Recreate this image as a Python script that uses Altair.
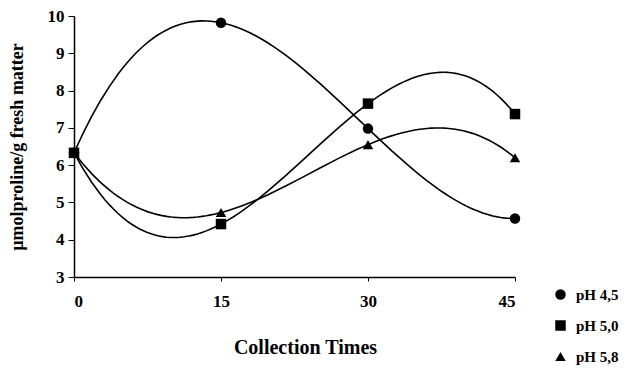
import altair as alt
import pandas as pd

times = [0, 15, 30, 45]
ph45 = [6.33, 9.82, 6.98, 4.57]
ph50 = [6.33, 4.42, 7.65, 7.37]
ph58 = [6.33, 4.73, 6.55, 6.20]
series = ["pH 4,5", "pH 5,0", "pH 5,8"]
shapes = ["circle", "square", "triangle-up"]
y_ticks = [3, 4, 5, 6, 7, 8, 9, 10]

rows = []
for name, vals in zip(series, [ph45, ph50, ph58]):
    for t, v in zip(times, vals):
        rows.append({"t": t, "v": v, "s": name})
df = pd.DataFrame(rows)

FONT = "Liberation Serif"

x = alt.X("t:Q", scale=alt.Scale(domain=[0, 45], nice=False),
          axis=alt.Axis(values=times, title="Collection Times", format="d",
                        labelPadding=12, titlePadding=28, tickSize=4,
                        titleFontSize=20, titleX=231))
y = alt.Y("v:Q", scale=alt.Scale(domain=[3, 10], nice=False),
          axis=alt.Axis(values=y_ticks, title="µmolproline/g fresh matter",
                        labelPadding=4, titlePadding=21, tickSize=6,
                        titleFontSize=18))

# third-order polynomial trend through each series' four points
lines = alt.Chart(df).transform_regression(
    "t", "v", groupby=["s"], method="poly", order=3, extent=[0, 45]
).mark_line(color="black", strokeWidth=1.6).encode(x=x, y=y, detail="s:N")

points = alt.Chart(df).mark_point(filled=True, color="black", opacity=1,
                                  size=110).encode(
    x=x, y=y,
    shape=alt.Shape("s:N", scale=alt.Scale(domain=series, range=shapes),
                    legend=alt.Legend(title=None, orient="none", legendX=479,
                                      legendY=271, rowPadding=14,
                                      symbolSize=110, symbolFillColor="black",
                                      symbolStrokeColor="black",
                                      labelFont=FONT, labelFontSize=15,
                                      labelFontWeight="bold", labelOffset=8)))

chart = alt.layer(lines, points).properties(
    width=441, height=261,
    autosize=alt.AutoSizeParams(type="none"),
    padding={"left": 66, "top": 8, "right": 115, "bottom": 95},
).configure_view(stroke=None).configure_axis(
    grid=False, domainColor="black", tickColor="black", domainWidth=1.5,
    labelFont=FONT, labelFontSize=17, labelFontWeight="bold", labelColor="black",
    titleFont=FONT, titleFontWeight="bold", titleColor="black",
)

chart.save("out.html", embed_options={"renderer": "svg", "actions": False})
